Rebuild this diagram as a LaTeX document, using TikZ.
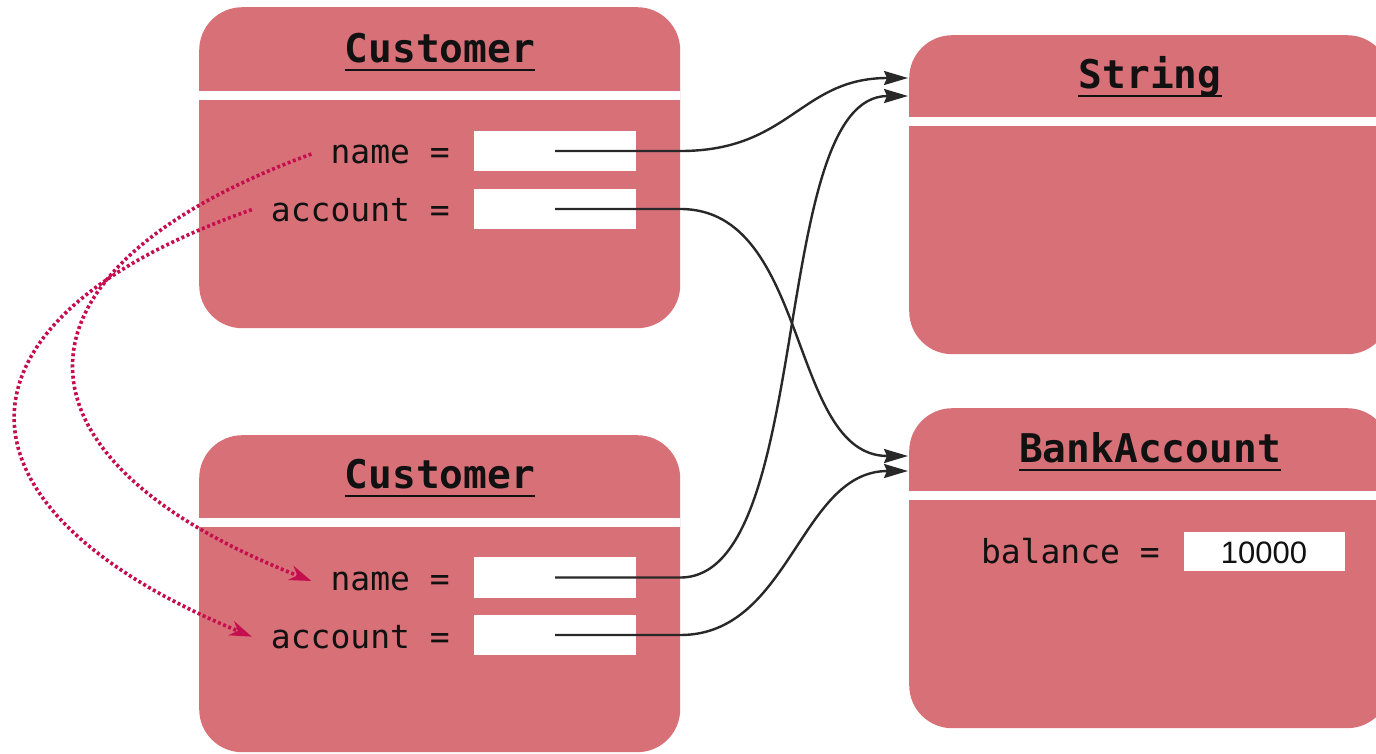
\documentclass[tikz,border=0pt]{standalone}
\usepackage{fontspec}
\usetikzlibrary{arrows.meta}
\newfontfamily\dvmono{DejaVu Sans Mono}
\newfontfamily\libsans{Liberation Sans}
\definecolor{boxred}{RGB}{216,112,120}
\definecolor{dotred}{RGB}{196,14,78}
\definecolor{linegray}{RGB}{40,40,40}
\definecolor{inkblack}{RGB}{17,17,17}
\tikzset{
 objbox/.style={fill=boxred, rounded corners=43pt, inner sep=0pt, anchor=north west, minimum width=481pt},
 bandline/.style={fill=white},
 valbox/.style={fill=white, inner sep=0pt, minimum width=162pt, minimum height=40pt},
 titletext/.style={inner sep=0pt, anchor=base, text=inkblack, font=\dvmono\bfseries\fontsize{39.5}{40}\selectfont},
 fieldtext/.style={inner sep=0pt, anchor=base east, text=inkblack, font=\dvmono\fontsize{33}{34}\selectfont},
 valtext/.style={inner sep=0pt, anchor=base, text=inkblack, font=\libsans\fontsize{31}{32}\selectfont},
 uline/.style={line width=2.4pt, draw=inkblack},
 refarrow/.style={draw=linegray, line width=2.4pt, -{Stealth[length=24pt,width=14pt,inset=3pt]}},
 copyarrow/.style={draw=dotred, line width=3.6pt, dash pattern=on 3pt off 2.6pt, -{Stealth[length=22pt,width=15pt,inset=7pt]}},
}
\begin{document}
\begin{tikzpicture}[x=1pt,y=-1pt]
\useasboundingbox (0,0) rectangle (1376,753);
\clip (0,0) rectangle (1376,753);

% object boxes
\node[objbox, minimum height=321pt] (c1) at (199,7) {};
\fill[bandline] (199,91) rectangle (680,100);
\node[objbox, minimum height=319pt] (str) at (909,35) {};
\fill[bandline] (909,117) rectangle (1390,126);
\node[objbox, minimum height=320pt] (bank) at (909,408) {};
\fill[bandline] (909,491) rectangle (1390,500);
\node[objbox, minimum height=317pt] (c2) at (199,435) {};
\fill[bandline] (199,518) rectangle (680,527);

% titles
\node[titletext] (c1t) at (440,62) {Customer};
\draw[uline] ([yshift=-8pt]c1t.base west) -- ([yshift=-8pt]c1t.base east);
\node[titletext] (strt) at (1150,88) {String};
\draw[uline] ([yshift=-8pt]strt.base west) -- ([yshift=-8pt]strt.base east);
\node[titletext] (bankt) at (1150,462) {BankAccount};
\draw[uline] ([yshift=-8pt]bankt.base west) -- ([yshift=-8pt]bankt.base east);
\node[titletext] (c2t) at (440,488) {Customer};
\draw[uline] ([yshift=-8pt]c2t.base west) -- ([yshift=-8pt]c2t.base east);

% fields
\node[fieldtext] (c1nl) at (450,163) {name =};
\node[valbox] (c1nv) at (555,151) {};
\node[fieldtext] (c1al) at (450,221) {account =};
\node[valbox] (c1av) at (555,209) {};
\node[fieldtext] (c2nl) at (450,590) {name =};
\node[valbox, minimum height=41pt] (c2nv) at (555,577.5) {};
\node[fieldtext] (c2al) at (450,648) {account =};
\node[valbox] (c2av) at (555,635) {};
\node[fieldtext] (bal) at (1160,563) {balance =};
\node[valbox, minimum width=161pt, minimum height=39pt] (balv) at (1264.5,551.5) {};
\node[valtext] (balt) at (1264,563) {10000};

% arrow targets
\coordinate (s1) at (908,78);
\coordinate (s2) at (908,96);
\coordinate (b1) at (908,456);
\coordinate (b2) at (908,471);

% reference arrows
\draw[refarrow] (c1nv.center) -- (c1nv.center -| c1.east) .. controls +(110,0) and +(-108,0) .. (s1);
\draw[refarrow] (c1av.center) -- (c1av.center -| c1.east) .. controls +(130,0) and +(-120,0) .. (b1);
\draw[refarrow] (c2nv.center) -- (c2nv.center -| c2.east) .. controls +(135,0) and +(-140,0) .. (s2);
\draw[refarrow] (c2av.center) -- (c2av.center -| c2.east) .. controls +(110,0) and +(-108,0) .. (b2);

% copy arrows
\draw[copyarrow] ([xshift=-19pt]c1nl.west) .. controls (-5,270) and (-5,457) .. ([xshift=-19pt]c2nl.west);
\draw[copyarrow] ([xshift=-19pt]c1al.west) .. controls (-63,320) and (-63,507) .. ([xshift=-19pt]c2al.west);
\end{tikzpicture}
\end{document}
